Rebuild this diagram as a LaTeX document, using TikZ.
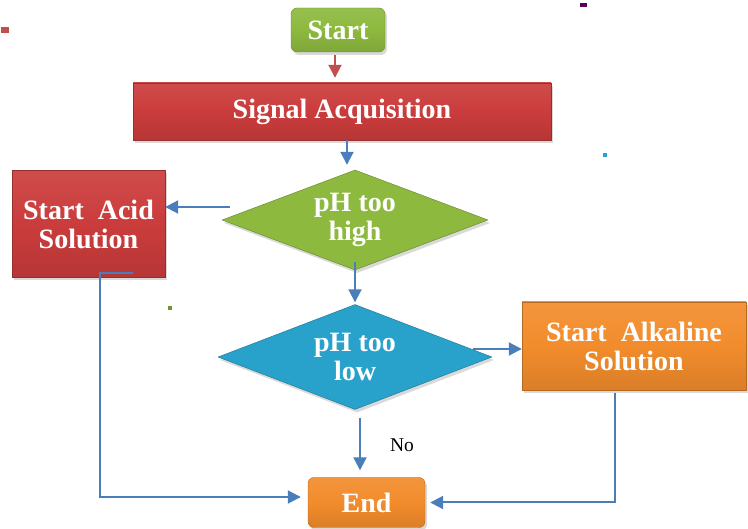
\documentclass[tikz,border=0pt]{standalone}
\usepackage{fontspec}
\setmainfont{Liberation Serif}
\usetikzlibrary{shapes.geometric,shadows,arrows.meta}
\definecolor{boxred}{HTML}{CB3C3C}
\definecolor{boxgreen}{HTML}{8DB93F}
\definecolor{boxblue}{HTML}{28A2CB}
\definecolor{boxorange}{HTML}{F28C2C}
\definecolor{lineblue}{HTML}{4A7EBB}
\definecolor{linered}{HTML}{C0504D}
\begin{document}
\begin{tikzpicture}[x=1pt,y=-1pt,
  box/.style={rectangle, draw=#1!75!black, top color=#1!92!white, bottom color=#1!90!black, middle color=#1,
    text=white, align=center, inner sep=0pt,
    font=\fontsize{28}{29}\selectfont\bfseries,
    drop shadow={opacity=0.3,shadow xshift=2pt,shadow yshift=-3pt}},
  diam/.style={diamond, aspect=2.66, draw=#1!70!black, fill=#1, text=white, align=center, inner sep=0pt,
    font=\fontsize{28}{29}\selectfont\bfseries,
    drop shadow={opacity=0.3,shadow xshift=2pt,shadow yshift=-3pt}},
  arr/.style={->, >={Triangle[length=13pt,width=13pt]}, lineblue, line width=2pt}]
      \useasboundingbox (0,0) rectangle (748,529);
      \node[box=boxgreen, rounded corners=6pt, minimum width=94pt, minimum height=44pt] (start) at (338,30) {Start};
      \node[box=boxred, minimum width=418pt, minimum height=57pt] (sig) at (342,111.5) {Signal Acquisition};
      \node[diam=boxgreen, minimum width=266pt, minimum height=100pt] (high) at (355,220) {pH too\\high};
      \node[box=boxred, minimum width=153pt, minimum height=107pt] (acid) at (88.5,224) {Start\ \ Acid\\Solution};
      \node[diam=boxblue, minimum width=274pt, minimum height=105pt] (low) at (355,357) {pH too\\low};
      \node[box=boxorange, minimum width=224pt, minimum height=88pt] (alk) at (634,346) {Start\ \ Alkaline\\Solution};
      \node[box=boxorange, rounded corners=6pt, minimum width=117pt, minimum height=50pt] (end) at (366.5,502.5) {End};
      \node[font=\fontsize{19.5}{20}\selectfont] (no) at (402,445) {No};
      \coordinate (highw) at ([shift={(8,-13)}]high.west);
      \coordinate (lowe) at ([shift={(-19,-8)}]low.east);
      \coordinate (acidb) at ([shift={(44.5,-4.5)}]acid.south);
      \draw[arr, linered, shorten <=3pt, shorten >=5pt] ([xshift=-3pt]start.south) -- ([xshift=-3pt]start.south |- sig.north);
      \draw[arr, shorten >=5pt] ([xshift=5pt]sig.south) -- ([xshift=5pt]sig.south |- high.north);
      \draw[arr] (highw) -- (highw -| acid.east);
      \draw[arr, shorten >=2pt] ([yshift=8pt]high.south) -- (low.north);
      \draw[arr] (lowe) -- (lowe -| alk.west);
      \draw[arr, shorten >=7pt] ([shift={(5,8)}]low.south) -- ([xshift=5pt]low.south |- end.north);
      \draw[arr, shorten >=7pt] (acidb) -- ++(-33,0) |- ([yshift=5.5pt]end.west);
      \draw[arr, shorten >=5pt] ([shift={(-19,3)}]alk.south) |- (end.east);
      % stray marks
      \fill[linered] (1,27) rectangle (9,33);
      \fill[violet!70!black] (580,3) rectangle (587,7);
      \fill[boxblue] (603,153) rectangle (607,157);
      \fill[boxgreen!80!black] (168,306) rectangle (172,310);
\end{tikzpicture}
\end{document}
